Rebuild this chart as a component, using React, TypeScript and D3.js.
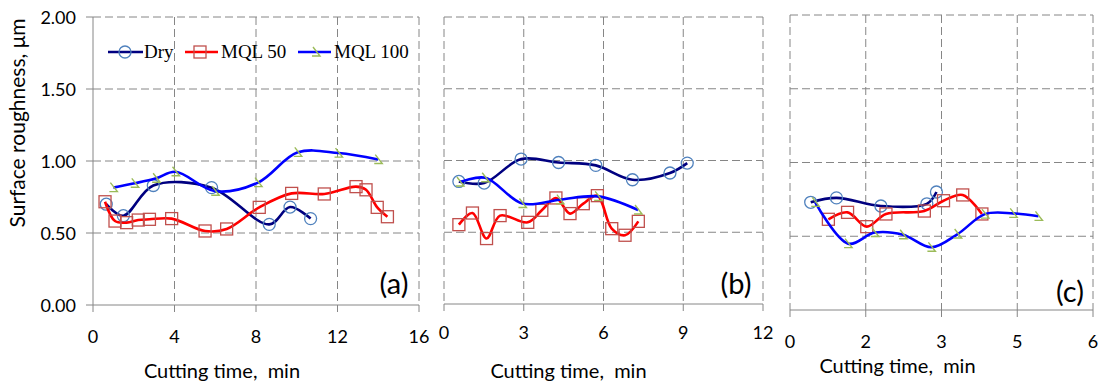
import React from "react";
import * as d3 from "d3";

// ---------- data ----------
const yTicks = [0, 0.5, 1, 1.5, 2];
const yTickLabels = ["0.00", "0.50", "1.00", "1.50", "2.00"];

const aXTicks = [0, 4, 8, 12, 16];
const aXTickLabels = ["0", "4", "8", "12", "16"];
const bXTicks = [0, 3, 6, 9, 12];
const bXTickLabels = ["0", "3", "6", "9", "12"];
const cXTicks = [0, 1.5, 3, 4.5, 6];
const cXTickLabels = ["0", "2", "3", "5", "6"];

const seriesNames = ["Dry", "MQL 50", "MQL 100"];

// panel (a)
const aDryX = [0.65, 1.49, 2.96, 5.82, 8.65, 9.67, 10.68];
const aDryY = [0.70, 0.62, 0.83, 0.815, 0.56, 0.68, 0.60];
const aMql50X = [0.59, 1.08, 1.65, 2.22, 2.77, 3.86, 5.5, 6.56, 8.16, 9.75, 11.35, 12.91, 13.4, 13.95, 14.45];
const aMql50Y = [0.717, 0.583, 0.572, 0.59, 0.595, 0.6, 0.514, 0.528, 0.678, 0.775, 0.771, 0.822, 0.8, 0.678, 0.613];
const aMql100X = [1.0, 2.05, 3.1, 4.05, 6.0, 8.1, 10.05, 12.05, 14.0];
const aMql100Y = [0.815, 0.845, 0.88, 0.925, 0.79, 0.85, 1.06, 1.055, 1.01];

// panel (b)
const bDryX = [0.56, 1.51, 2.9, 4.31, 5.71, 7.09, 8.5, 9.15];
const bDryY = [0.854, 0.843, 1.01, 0.986, 0.966, 0.866, 0.913, 0.982];
const bMql50X = [0.56, 1.07, 1.6, 2.11, 3.15, 3.68, 4.21, 4.74, 5.24, 5.77, 6.31, 6.81, 7.31];
const bMql50Y = [0.553, 0.634, 0.456, 0.616, 0.569, 0.653, 0.739, 0.63, 0.699, 0.755, 0.525, 0.479, 0.576];
const bMql100X = [0.6, 1.55, 2.95, 4.36, 5.8, 7.3];
const bMql100Y = [0.85, 0.88, 0.70, 0.727, 0.75, 0.655];

// panel (c)
const cDryX = [0.41, 0.92, 1.8, 2.71, 2.9];
const cDryY = [0.73, 0.76, 0.705, 0.72, 0.80];
const cMql50X = [0.76, 1.14, 1.52, 1.9, 2.66, 3.04, 3.42, 3.8];
const cMql50Y = [0.615, 0.662, 0.565, 0.651, 0.671, 0.741, 0.78, 0.651];
const cMql100X = [0.5, 1.15, 1.68, 2.24, 2.8, 3.32, 3.86, 4.42, 4.92];
const cMql100Y = [0.73, 0.45, 0.525, 0.51, 0.425, 0.515, 0.65, 0.655, 0.635];

// ---------- styles ----------
const lineColors = ["#000080", "#ff0000", "#0000ff"];
const markerColors = ["#4f81bd", "#c0504d", "#9bbb59"];
const gridColor = "#868686";
const sansFont = "Lato, 'Open Sans', sans-serif";
const serifFont = "'Liberation Serif', 'DejaVu Serif', serif";

type Pt = [number, number];
const zip = (xs: number[], ys: number[]): Pt[] => xs.map((x, i) => [x, ys[i]]);

const panels = [
  {
    id: "a", label: "(a)", x0: 93, x1: 419, yTop: 17, yBot: 305, xMax: 16,
    ticks: aXTicks, tickLabels: aXTickLabels, tickLabelY: 343, titleY: 378,
    labelPos: [394, 294],
    series: [zip(aDryX, aDryY), zip(aMql50X, aMql50Y), zip(aMql100X, aMql100Y)],
    yAxis: true,
  },
  {
    id: "b", label: "(b)", x0: 444, x1: 763, yTop: 17, yBot: 304, xMax: 12,
    ticks: bXTicks, tickLabels: bXTickLabels, tickLabelY: 339, titleY: 378,
    labelPos: [736, 294],
    series: [zip(bDryX, bDryY), zip(bMql50X, bMql50Y), zip(bMql100X, bMql100Y)],
    yAxis: false,
  },
  {
    id: "c", label: "(c)", x0: 790, x1: 1093, yTop: 15, yBot: 310, xMax: 6,
    ticks: cXTicks, tickLabels: cXTickLabels, tickLabelY: 348, titleY: 373,
    labelPos: [1070, 302],
    series: [zip(cDryX, cDryY), zip(cMql50X, cMql50Y), zip(cMql100X, cMql100Y)],
    yAxis: false,
  },
];

function Marker({ kind, x, y }: { kind: number; x: number; y: number }) {
  if (kind === 0) {
    return <circle cx={x} cy={y} r={6} fill="none" stroke={markerColors[0]} strokeWidth={1.3} />;
  }
  if (kind === 1) {
    return <rect x={x - 6} y={y - 6} width={12} height={12} fill="none" stroke={markerColors[1]} strokeWidth={1.3} />;
  }
  return (
    <path
      d={`M${x - 3},${y - 5} L${x + 4},${y + 4} L${x - 4},${y + 4}`}
      fill="none"
      stroke={markerColors[2]}
      strokeWidth={1.4}
    />
  );
}

function Panel({ p }: { p: (typeof panels)[number] }) {
  const x = d3.scaleLinear().domain([0, p.xMax]).range([p.x0, p.x1]);
  const y = d3.scaleLinear().domain([0, 2]).range([p.yBot, p.yTop]);
  const line = d3
    .line<Pt>()
    .x((d) => x(d[0]))
    .y((d) => y(d[1]))
    .curve(d3.curveCatmullRom.alpha(0.5));
  return (
    <g>
      {/* horizontal gridlines */}
      {yTicks.filter((t) => t > 0).map((t) => (
        <line key={"h" + t} x1={p.x0} x2={p.x1} y1={y(t)} y2={y(t)} stroke={gridColor} strokeDasharray="8,4" strokeWidth={1} />
      ))}
      {/* vertical gridlines */}
      {p.ticks.filter((t) => (p.yAxis ? t > 0 : true)).map((t) => (
        <line key={"v" + t} x1={x(t)} x2={x(t)} y1={p.yTop} y2={p.yBot} stroke={gridColor} strokeDasharray="8,4" strokeWidth={1} />
      ))}
      {/* bottom axis */}
      <line x1={p.x0} x2={p.x1} y1={p.yBot} y2={p.yBot} stroke={gridColor} strokeWidth={1} />
      {p.ticks.map((t) => (
        <line key={"bt" + t} x1={x(t)} x2={x(t)} y1={p.yBot} y2={p.yBot + 7} stroke={gridColor} strokeWidth={1} />
      ))}
      {p.ticks.map((t, i) => (
        <text key={"bl" + t} x={x(t)} y={p.tickLabelY} textAnchor="middle" fontFamily={sansFont} fontSize={18} fill="#000">
          {p.tickLabels[i]}
        </text>
      ))}
      {p.yAxis && (
        <g>
          <line x1={p.x0} x2={p.x0} y1={p.yTop} y2={p.yBot} stroke={gridColor} strokeWidth={1} />
          {yTicks.map((t, i) => (
            <g key={"yt" + t}>
              <line x1={p.x0 - 7} x2={p.x0} y1={y(t)} y2={y(t)} stroke={gridColor} strokeWidth={1} />
              <text x={76} y={y(t) + 6.5} textAnchor="end" fontFamily={sansFont} fontSize={18} fill="#000">
                {yTickLabels[i]}
              </text>
            </g>
          ))}
        </g>
      )}
      {/* series */}
      {p.series.map((s, si) => (
        <g key={"s" + si}>
          <path d={line(s) || ""} fill="none" stroke={lineColors[si]} strokeWidth={2.6} />
          {s.map((d, i) => (
            <Marker key={i} kind={si} x={x(d[0])} y={y(d[1])} />
          ))}
        </g>
      ))}
      <text x={p.labelPos[0]} y={p.labelPos[1]} textAnchor="middle" fontFamily={sansFont} fontSize={29} fill="#000">
        {p.label}
      </text>
      <text x={(p.x0 + p.x1) / 2 + (p.id === "a" ? -34 : p.id === "b" ? -35 : -44)} y={p.titleY} textAnchor="middle" fontFamily={sansFont} fontSize={20} fill="#000" xmlSpace="preserve">
        Cutting time,  min
      </text>
    </g>
  );
}

export default function App() {
  const legendItems = [
    { x1: 108, x2: 143, mx: 125, tx: 144 },
    { x1: 185, x2: 218, mx: 200, tx: 221 },
    { x1: 298, x2: 331, mx: 316, tx: 334 },
  ];
  return (
    <div style={{ position: "absolute", left: 0, top: 0 }}>
      <svg width={1102} height={384} style={{ display: "block", background: "#fff" }}>
        {panels.map((p) => (
          <Panel key={p.id} p={p} />
        ))}
        <text
          transform="translate(25,123) rotate(-90)"
          textAnchor="middle"
          fontFamily={sansFont}
          fontSize={21}
          fill="#000"
        >
          Surface roughness, μm
        </text>
        {legendItems.map((it, i) => (
          <g key={"lg" + i}>
            <line x1={it.x1} x2={it.x2} y1={52} y2={52} stroke={lineColors[i]} strokeWidth={2.6} />
            <Marker kind={i} x={it.mx} y={52} />
            <text x={it.tx} y={58} fontFamily={serifFont} fontSize={19} fill="#000">
              {seriesNames[i]}
            </text>
          </g>
        ))}
      </svg>
    </div>
  );
}
